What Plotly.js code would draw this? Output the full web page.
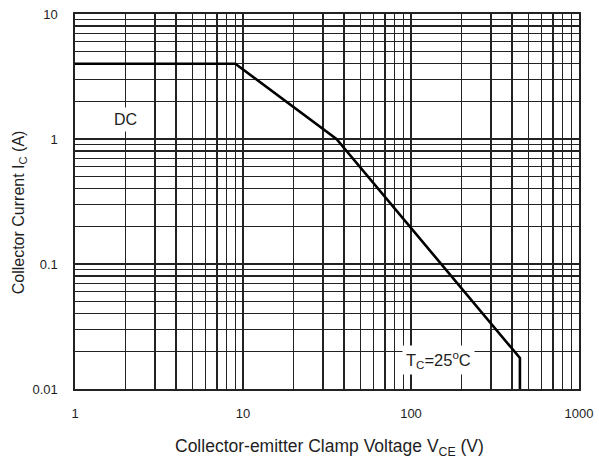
<!DOCTYPE html>
<html><head><meta charset="utf-8">
<script src="https://cdn.plot.ly/plotly-3.0.1.min.js"></script>
<style>html,body{margin:0;padding:0;background:#fff}#c{width:599px;height:463px}</style>
</head><body><div id="c"></div>
<script>
const vce = [1, 9, 36, 445, 445];
const ic = [4, 4, 1, 0.0177, 0.01];
const xTickVals = [1, 10, 100, 1000];
const xTickText = ['1', '10', '100', '1000'];
const yTickVals = [0.01, 0.1, 1, 10];
const yTickText = ['0.01', '0.1', '1', '10'];
const minorX = [2,3,4,5,6,7,8,9,20,30,40,50,60,70,80,90,200,300,400,500,600,700,800,900];
const minorY = [0.02,0.03,0.04,0.05,0.06,0.07,0.08,0.09,0.2,0.3,0.4,0.5,0.6,0.7,0.8,0.9,2,3,4,5,6,7,8,9];

const gridC = '#222';
const fam = 'Liberation Sans, Arial, sans-serif';
const txtC = '#1e1e1e';

Plotly.newPlot('c', [{
  x: vce, y: ic, mode: 'lines', line: {color: '#000', width: 2.6}, hoverinfo: 'none'
}], {
  width: 599, height: 463,
  margin: {l: 75, r: 20, t: 14, b: 74},
  paper_bgcolor: '#fff', plot_bgcolor: '#fff',
  showlegend: false,
  font: {family: fam, size: 13, color: txtC},
  xaxis: {
    type: 'log', range: [0, 3], tickvals: xTickVals, ticktext: xTickText,
    showgrid: true, gridcolor: gridC, gridwidth: 1.4,
    minor: {tickvals: minorX, showgrid: true, gridcolor: gridC, gridwidth: 1.4, ticks: ''},
    showline: true, linecolor: gridC, linewidth: 1.6, mirror: true,
    ticks: '', zeroline: false, ticklabelstandoff: 12
  },
  yaxis: {
    type: 'log', range: [-2, 1], tickvals: yTickVals, ticktext: yTickText,
    showgrid: true, gridcolor: gridC, gridwidth: 1.4,
    minor: {tickvals: minorY, showgrid: true, gridcolor: gridC, gridwidth: 1.4, ticks: ''},
    showline: true, linecolor: gridC, linewidth: 1.6, mirror: true,
    ticks: '', zeroline: false, ticklabelstandoff: 13
  },
  annotations: [
    {x: 0.504, y: -0.155, xref: 'paper', yref: 'paper', text: 'Collector-emitter Clamp Voltage V<sub>CE</sub> (V)',
     showarrow: false, font: {size: 17.5, family: fam, color: txtC}, xanchor: 'center', yanchor: 'middle'},
    {x: -0.11, y: 0.47, xref: 'paper', yref: 'paper', text: 'Collector Current I<sub>C</sub> (A)', textangle: -90,
     showarrow: false, font: {size: 16, family: fam, color: txtC}, xanchor: 'center', yanchor: 'middle'},
    {x: Math.log10(2), y: Math.log10(1.42), xref: 'x', yref: 'y', text: 'DC', showarrow: false,
     bgcolor: '#fff', font: {size: 16, family: fam, color: txtC}, borderpad: 3},
    {x: Math.log10(145), y: Math.log10(0.0172), xref: 'x', yref: 'y', text: 'T<sub>C</sub>=25<sup>o</sup>C', showarrow: false,
     bgcolor: '#fff', font: {size: 16.5, family: fam, color: txtC}, borderpad: 3}
  ]
}, {staticPlot: true});
</script></body></html>
